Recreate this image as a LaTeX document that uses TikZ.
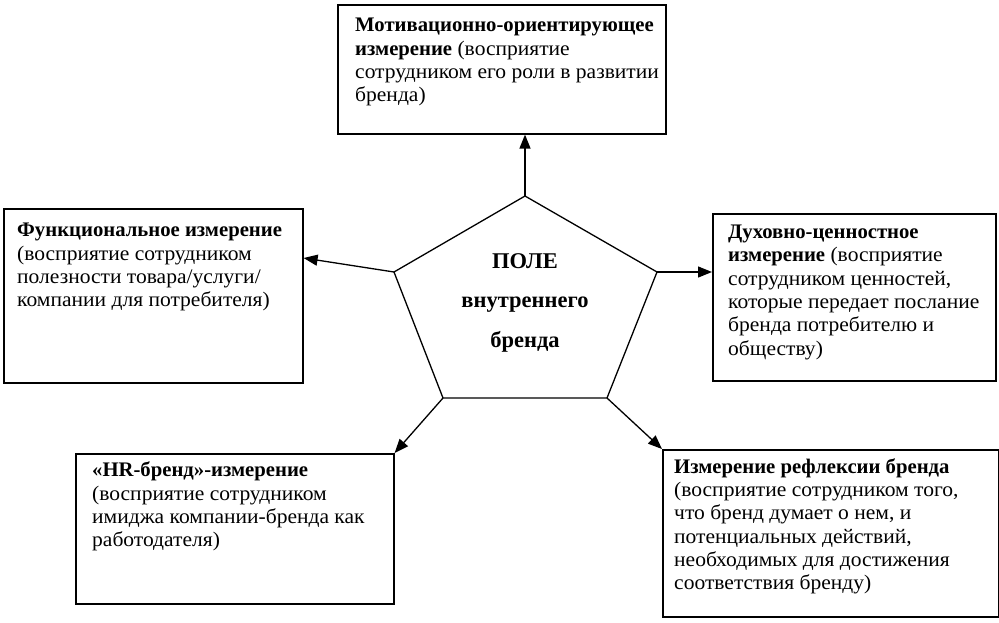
\documentclass[tikz,border=0pt]{standalone}
\usepackage{fontspec}
\setmainfont{Liberation Serif}[FakeStretch=1.04,BoldFeatures={FakeStretch=1.0}]
\usetikzlibrary{arrows.meta,calc}
\begin{document}
\begin{tikzpicture}[x=1pt,y=-1pt,
  box/.style={draw,line width=1.6pt,minimum width=#1,anchor=north west,inner sep=0pt},
  txt/.style={anchor=base west,inner sep=0pt,align=left,font=\fontsize{20.7}{23.3}\selectfont},
  ctr/.style={anchor=base,inner sep=0pt,align=center,font=\fontsize{22.5}{39.3}\selectfont\bfseries},
  arr/.style={line width=1.3pt,-{Triangle[length=14pt,width=11pt]}},
  pent/.style={line width=1.3pt,line join=miter}]
\useasboundingbox (0,0) rectangle (999,622);
% boxes
\node[box=328pt,minimum height=129pt] (mot) at (337,4) {};
\node[box=299pt,minimum height=174pt] (func) at (3,208) {};
\node[box=283pt,minimum height=167pt] (duh) at (712,213) {};
\node[box=318pt,minimum height=150pt] (hr) at (75,453) {};
\node[box=336pt,minimum height=167pt] (refl) at (662,449) {};
% texts (anchored at the baseline of the last line)
\node[txt] (tmot) at (355,101.6) {\textbf{Мотивационно-ориентирующее}\\\textbf{измерение} (восприятие\\сотрудником его роли в развитии\\бренда)};
\node[txt] (tfunc) at (17,306.6) {\textbf{Функциональное измерение}\\(восприятие сотрудником\\полезности товара/услуги/\\компании для потребителя)};
\node[txt] (tduh) at (728,355) {\textbf{Духовно-ценностное}\\\textbf{измерение} (восприятие\\сотрудником ценностей,\\которые передает послание\\бренда потребителю и\\обществу)};
\node[txt] (thr) at (92,546.6) {\textbf{«HR-бренд»-измерение}\\(восприятие сотрудником\\имиджа компании-бренда как\\работодателя)};
\node[txt] (trefl) at (674,589.8) {\textbf{Измерение рефлексии бренда}\\(восприятие сотрудником того,\\что бренд думает о нем, и\\потенциальных действий,\\необходимых для достижения\\соответствия бренду)};
% pentagon
\coordinate (pt) at (525,196);
\coordinate (pl) at (394,272);
\coordinate (pr) at (657,272);
\coordinate (pbl) at (443,398);
\coordinate (pbr) at (607,398);
\draw[pent] (pt) -- (pr) -- (pbr) -- (pbl) -- (pl) -- cycle;
\node[ctr] (field) at (525,347) {ПОЛЕ\\внутреннего\\бренда};
% arrows
\draw[arr] (pt) -- (pt |- mot.south);
\draw[arr] (pl) -- ($(func.north east)+(0,50)$);
\draw[arr] (pr) -- (pr -| duh.west);
\draw[arr] (pbl) -- (hr.north east);
\draw[arr] (pbr) -- (refl.north west);
\end{tikzpicture}
\end{document}
